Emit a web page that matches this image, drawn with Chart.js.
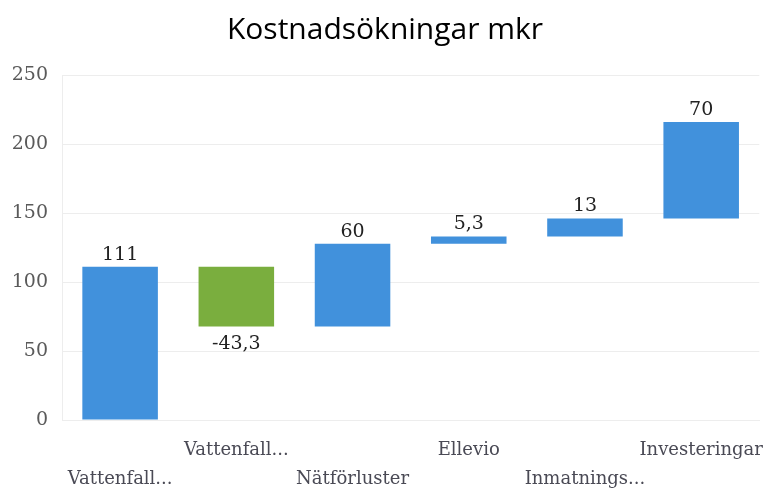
<!DOCTYPE html>
<html>
<head>
<meta charset="utf-8">
<script src="https://cdn.jsdelivr.net/npm/chart.js@4/dist/chart.umd.min.js"></script>
<style>
html,body{margin:0;padding:0;background:#fff;}
#wrap{width:771px;height:492px;position:relative;}
</style>
</head>
<body>
<div id="wrap"><canvas id="c" width="771" height="492"></canvas></div>
<script>
const categories = ['Vattenfall...', 'Vattenfall...', 'Nätförluster', 'Ellevio', 'Inmatnings...', 'Investeringar'];
const changes = [111, -43.3, 60, 5.3, 13, 70];
const lowered = [true, false, true, false, true, false];
const yTicks = [0, 50, 100, 150, 200, 250];

const floating = [];
let run = 0;
for (const v of changes) { floating.push([run, run + v]); run += v; }
const colors = changes.map(v => v < 0 ? '#7aae3e' : '#4191dc');
const fmt = v => String(v).replace('.', ',');

const labelPlugin = {
  id: 'barLabels',
  afterDatasetsDraw(chart) {
    const ctx = chart.ctx;
    const meta = chart.getDatasetMeta(0);
    ctx.save();
    ctx.font = '19px "DejaVu Serif"';
    ctx.fillStyle = '#222';
    ctx.textAlign = 'center';
    ctx.textBaseline = 'middle';
    meta.data.forEach((el, i) => {
      const v = changes[i];
      const top = Math.min(el.y, el.base);
      const bot = Math.max(el.y, el.base);
      if (v >= 0) ctx.fillText(fmt(v), el.x, top - 12);
      else ctx.fillText(fmt(v), el.x, bot + 17);
    });
    ctx.restore();
  }
};

new Chart(document.getElementById('c'), {
  type: 'bar',
  data: {
    labels: categories,
    datasets: [{
      data: floating,
      backgroundColor: colors,
      borderWidth: 0,
      barPercentage: 0.65,
      categoryPercentage: 1.0
    }]
  },
  options: {
    responsive: false,
    animation: false,
    layout: { padding: { left: 0, right: 1, top: 0, bottom: 0 } },
    plugins: {
      legend: { display: false },
      tooltip: { enabled: false },
      title: {
        display: true,
        text: 'Kostnadsökningar mkr',
        color: '#000',
        font: { family: '"Open Sans"', size: 30, weight: 'normal' },
        padding: { top: 12, bottom: 27 }
      }
    },
    scales: {
      y: {
        min: 0, max: 250,
        afterBuildTicks: s => { s.ticks = yTicks.map(v => ({ value: v })); },
        afterFit: s => { s.width = 62; },
        ticks: { color: '#5a5a5a', font: { family: '"DejaVu Serif"', size: 19 }, padding: 14 },
        grid: { color: '#ededed', drawTicks: false },
        border: { color: '#ededed' }
      },
      x: {
        afterFit: s => { s.height = 72; },
        ticks: {
          autoSkip: false, maxRotation: 0, minRotation: 0,
          color: '#4a4a55',
          font: { family: '"DejaVu Serif"', size: 18, lineHeight: 1.6 },
          padding: 8,
          callback: function(val, i) { return lowered[i] ? ['', categories[i]] : categories[i]; }
        },
        grid: { display: false },
        border: { color: '#ededed' }
      }
    }
  },
  plugins: [labelPlugin]
});
</script>
</body>
</html>
